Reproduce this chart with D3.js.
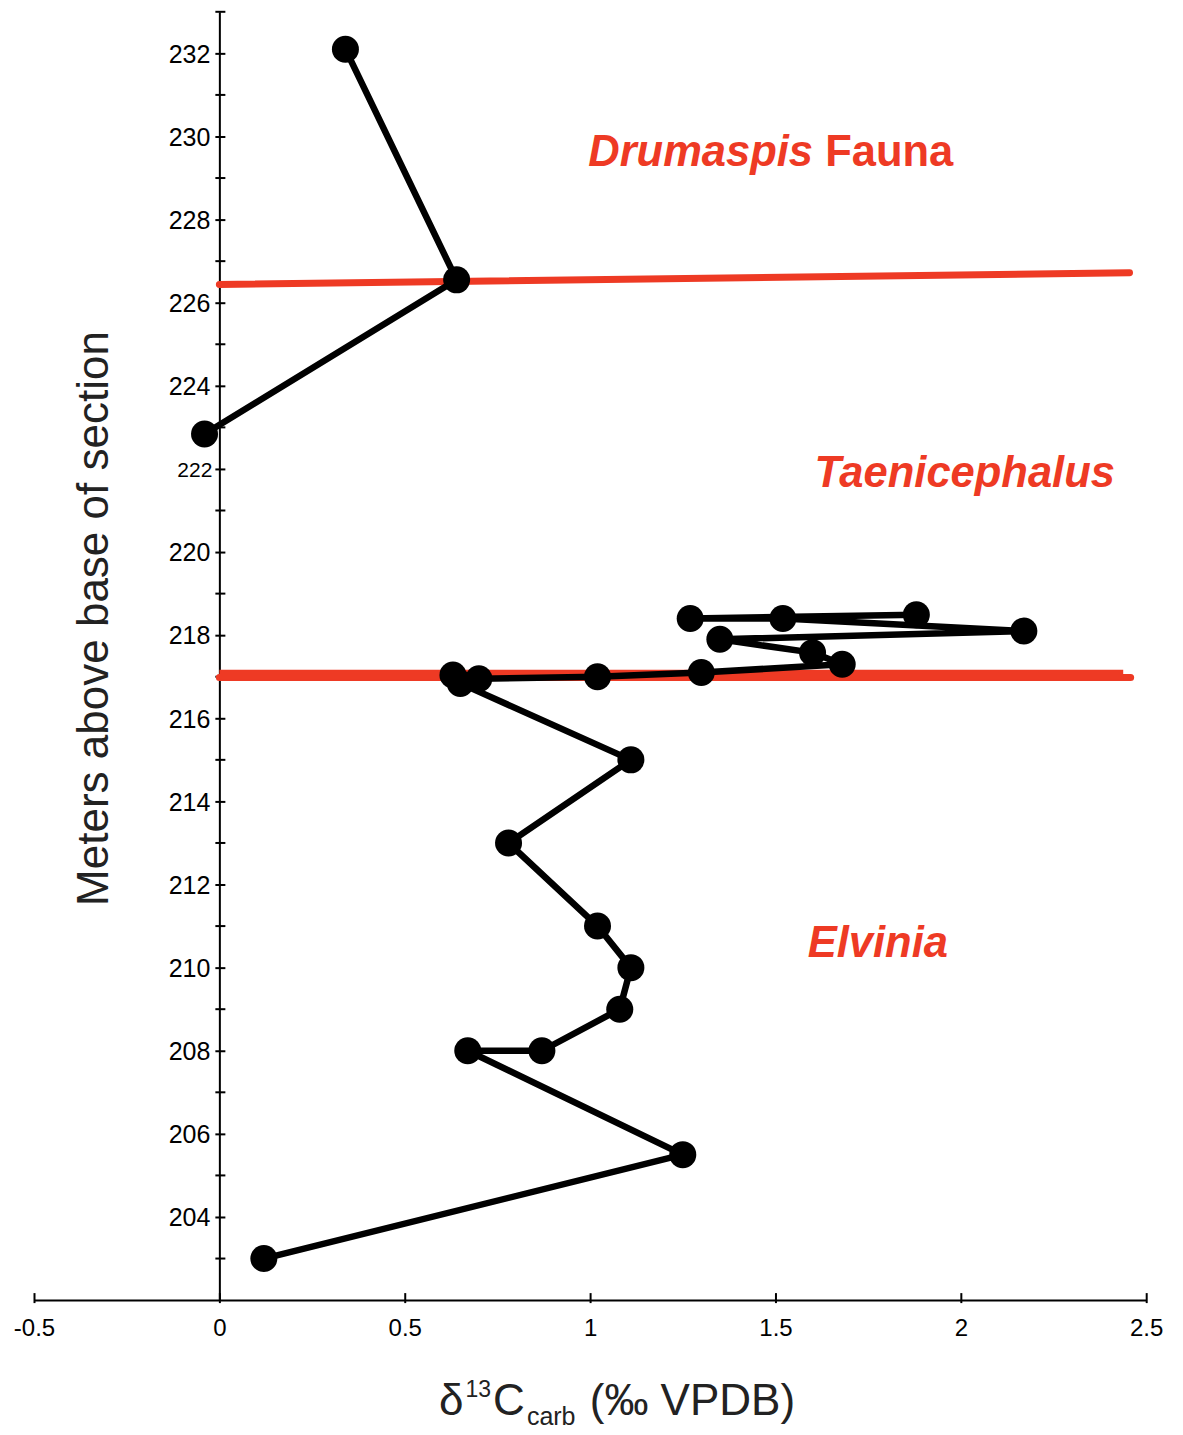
<!DOCTYPE html>
<html>
<head>
<meta charset="utf-8">
<script src="https://d3js.org/d3.v7.min.js"></script>
<style>
  html, body { margin: 0; padding: 0; background: #fff; }
  svg { display: block; }
  text { font-family: 'Liberation Sans', Arial, Helvetica, sans-serif; }
</style>
</head>
<body>
<svg id="chart" width="1183" height="1435"></svg>
<script>
// ---- Data ----
// Lower series (Elvinia / Taenicephalus), in drawing order
const lowerD13C = [0.12, 1.25, 0.67, 0.87, 1.08, 1.11, 1.02, 0.78, 1.11, 0.65, 0.63, 0.70, 1.02, 1.30, 1.68, 1.60, 1.35, 2.17, 1.52, 1.27, 1.88];
const lowerHeight = [203.0, 205.5, 208.0, 208.0, 209.0, 210.0, 211.0, 213.0, 215.0, 216.84, 217.04, 216.95, 217.0, 217.1, 217.3, 217.58, 217.9, 218.1, 218.4, 218.4, 218.49];
// Upper series (Taenicephalus / Drumaspis)
const upperD13C = [-0.04, 0.64, 0.34];
const upperHeight = [222.84, 226.55, 232.1];

// Biozone boundary lines (red)
const upperBoundaryX = [0.0, 2.455];
const upperBoundaryY = [226.44, 226.72];
const lowerBoundaryX = [0.0, 2.438];
const lowerBoundaryY = [217.05, 217.05];
const lowerBoundary2X = [0.0, 2.458];
const lowerBoundary2Y = [216.98, 216.98];

// Zone labels
const zoneLabels = [
  { parts: [{ t: "Drumaspis", italic: true }, { t: " Fauna", italic: false }], x: 0.995, y: 229.3 },
  { parts: [{ t: "Taenicephalus", italic: true }], x: 1.605, y: 221.57 },
  { parts: [{ t: "Elvinia", italic: true }], x: 1.587, y: 210.26 }
];

// Axes ticks
const xTicks = [-0.5, 0, 0.5, 1, 1.5, 2, 2.5];
const xTickLabels = ["-0.5", "0", "0.5", "1", "1.5", "2", "2.5"];
const yMajorTicks = [204, 206, 208, 210, 212, 214, 216, 218, 220, 222, 224, 226, 228, 230, 232];
const yMinorTicks = [203, 205, 207, 209, 211, 213, 215, 217, 219, 221, 223, 225, 227, 229, 231, 233];

// ---- Scales ----
const x = d3.scaleLinear().domain([-0.5, 2.5]).range([34, 1146.2]);
const y = d3.scaleLinear().domain([202, 233]).range([1300.1, 11.8]);

const svg = d3.select("#chart");
const RED = "#ee3a24";

// ---- Axes ----
const xAxis = d3.axisBottom(x).tickValues(xTicks).tickFormat((d, i) => xTickLabels[i]).tickSize(0).tickPadding(0);
const gx = svg.append("g").attr("transform", `translate(0,${y(202)})`).call(xAxis);
gx.select(".domain").attr("stroke", "#000").attr("stroke-width", 2);
gx.selectAll(".tick line").attr("y1", -7).attr("y2", 3).attr("stroke", "#000").attr("stroke-width", 2);
gx.selectAll(".tick text").attr("y", 36).attr("dy", null).attr("font-size", 24).attr("fill", "#000")
  .attr("font-family", "'Liberation Sans', Arial, sans-serif");

const yAxis = d3.axisLeft(y).tickValues(yMajorTicks).tickFormat(d3.format("d")).tickSize(0).tickPadding(0);
const gy = svg.append("g").attr("transform", `translate(${x(0)},0)`).call(yAxis);
gy.select(".domain").attr("stroke", "#000").attr("stroke-width", 2);
gy.selectAll(".tick line").attr("x1", -4).attr("x2", 6).attr("stroke", "#000").attr("stroke-width", 2);
gy.selectAll(".tick text").attr("x", -9).attr("dy", "0.35em").attr("font-size", 25).attr("fill", "#000")
  .attr("font-family", "'Liberation Sans', Arial, sans-serif")
  .filter(d => d === 222).attr("font-size", 21).attr("x", -7);

const gMinor = svg.append("g").attr("transform", `translate(${x(0)},0)`);
gMinor.selectAll("line").data(yMinorTicks).join("line")
  .attr("x1", -4).attr("x2", 6)
  .attr("y1", d => y(d)).attr("y2", d => y(d))
  .attr("stroke", "#000").attr("stroke-width", 2);

// ---- Red boundary lines ----
function boundary(xs, ys, w, cap) {
  svg.append("line")
    .attr("x1", x(xs[0])).attr("y1", y(ys[0]))
    .attr("x2", x(xs[1])).attr("y2", y(ys[1]))
    .attr("stroke", RED).attr("stroke-width", w).attr("stroke-linecap", cap);
}
boundary(upperBoundaryX, upperBoundaryY, 7, "round");
boundary(lowerBoundary2X, lowerBoundary2Y, 7, "round");
boundary(lowerBoundaryX, lowerBoundaryY, 10, "butt");

// ---- Data lines & points ----
const line = d3.line().x(d => x(d[0])).y(d => y(d[1]));
const lowerPts = lowerD13C.map((v, i) => [v, lowerHeight[i]]);
const upperPts = upperD13C.map((v, i) => [v, upperHeight[i]]);

[lowerPts, upperPts].forEach(pts => {
  svg.append("path").datum(pts).attr("d", line)
    .attr("fill", "none").attr("stroke", "#000").attr("stroke-width", 6.5)
    .attr("stroke-linejoin", "round");
});
svg.append("g").selectAll("circle").data(lowerPts.concat(upperPts)).join("circle")
  .attr("cx", d => x(d[0])).attr("cy", d => y(d[1])).attr("r", 13.5).attr("fill", "#000");

// ---- Zone labels ----
zoneLabels.forEach(z => {
  const t = svg.append("text").attr("x", x(z.x)).attr("y", y(z.y))
    .attr("font-size", 43.5).attr("font-weight", "bold").attr("fill", RED);
  z.parts.forEach(p => t.append("tspan").text(p.t).attr("font-style", p.italic ? "italic" : "normal"));
});

// ---- Axis titles ----
svg.append("text")
  .attr("transform", `translate(108,${(325 + 912) / 2}) rotate(-90)`)
  .attr("text-anchor", "middle").attr("font-size", 44).attr("fill", "#222")
  .text("Meters above base of section");

const xt = svg.append("text").attr("x", 439).attr("y", 1415).attr("font-size", 44).attr("fill", "#222");
xt.append("tspan").text("δ");
xt.append("tspan").text("13").attr("font-size", 23).attr("dy", -18).attr("dx", 2);
xt.append("tspan").text("C").attr("dy", 18).attr("dx", 2);
xt.append("tspan").text("carb").attr("font-size", 25).attr("dy", 10).attr("dx", 2);
xt.append("tspan").text(" (‰ VPDB)").attr("dy", -10).attr("dx", 2);
</script>
</body>
</html>
